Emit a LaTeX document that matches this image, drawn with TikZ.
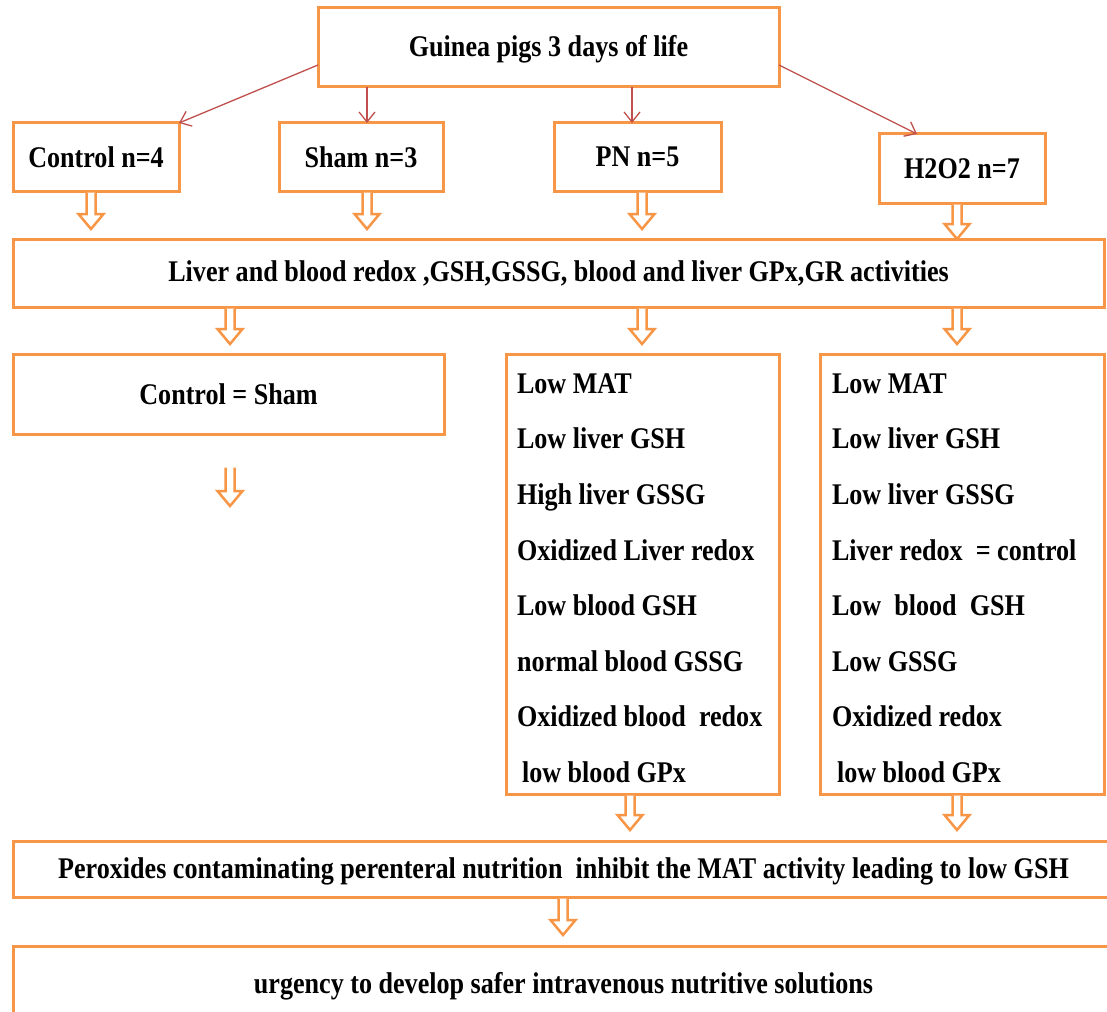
\documentclass[tikz,border=0pt]{standalone}
\usepackage{fontspec}
\setmainfont{Liberation Serif}[FakeStretch=0.87]
\usetikzlibrary{arrows.meta,calc}
\definecolor{boxorange}{HTML}{F79646}
\definecolor{linkred}{HTML}{C0504D}
\tikzset{
  box/.style={draw=boxorange, line width=3pt, rectangle, inner sep=0pt, outer sep=0pt,
    anchor=north west, font=\bfseries\fontsize{30}{36}\selectfont},
  harrow/.style={draw=boxorange, fill=white, line width=2.5pt, line join=miter},
  link/.style={draw=linkred, line width=1.3pt, -{Straight Barb[length=10pt,width=16pt]}},
  listtext/.style={anchor=north west, inner sep=0pt, outer sep=0pt, align=left,
    font=\bfseries\fontsize{30}{55.6}\selectfont},
}
\newcommand\hollowarrow[3]{%
  \draw[harrow] let \p1=(#1), \p2=(#2) in
    (\x1-4.5pt,\y1-1.5pt) -- (\x1-4.5pt,\y2+#3+15pt) -- (\x1-12.5pt,\y2+#3+15pt)
    -- (\x1,\y2+#3) -- (\x1+12.5pt,\y2+#3+15pt) -- (\x1+4.5pt,\y2+#3+15pt)
    -- (\x1+4.5pt,\y1-1.5pt);}
\begin{document}
\begin{tikzpicture}[x=1pt,y=-1pt]
\useasboundingbox (0,0) rectangle (1107,1011);
\clip (0,0) rectangle (1107,1011);
\fill[white] (0,0) rectangle (1107,1011);

% boxes
\node[box, minimum width=461, minimum height=79, text depth=3pt] (top) at (318,8) {Guinea pigs 3 days of life};
\node[box, minimum width=166, minimum height=68] (control) at (13,123) {Control n=4};
\node[box, minimum width=164, minimum height=68] (sham) at (279,123) {Sham n=3};
\node[box, minimum width=167, minimum height=68] (pn) at (554,123) {PN n=5};
\node[box, minimum width=166, minimum height=69] (h2o2) at (879,134) {H2O2 n=7};
\node[box, minimum width=1091, minimum height=68] (liver) at (13,239)
  {Liver and blood redox ,GSH,GSSG, blood and liver GPx,GR activities};
\node[box, minimum width=431, minimum height=80] (ctrlsham) at (13,354) {Control = Sham};
\node[box, minimum width=273, minimum height=440] (pnres) at (506,354) {};
\node[box, minimum width=284, minimum height=440] (h2res) at (820,354) {};
\node[box, minimum width=1101, minimum height=56, text depth=2pt] (perox) at (13,841)
  {Peroxides contaminating perenteral nutrition\ \ inhibit the MAT activity leading to low GSH};
\node[box, minimum width=1101, minimum height=80] (urg) at (13,946)
  {urgency to develop safer intravenous nutritive solutions};

% result lists
\node[listtext] (pnlist) at (517,373.4) {Low MAT\\Low liver GSH\\High liver GSSG\\Oxidized Liver redox\\Low blood GSH\\normal blood GSSG\\Oxidized blood\ \ redox\\\hspace{5pt}low blood GPx};
\node[listtext] (h2list) at (832,373.4) {Low MAT\\Low liver GSH\\Low liver GSSG\\Liver redox\ \ = control\\Low\ \ blood\ \ GSH\\Low GSSG\\Oxidized redox\\\hspace{5pt}low blood GPx};

% red links
\draw[link] ([yshift=-17.5pt]top.west) -- (control.north east);
\draw[link] (top.south -| 367,0) -- (sham.north -| 367,0);
\draw[link] (top.south -| 632,0) -- (pn.north -| 632,0);
\draw[link] ([yshift=-17.5pt]top.east) -- (h2o2.north -| 917,0);

% hollow arrows
\hollowarrow{control.south -| 91,0}{liver.north -| 91,0}{10pt}
\hollowarrow{sham.south -| 367,0}{liver.north -| 367,0}{10pt}
\hollowarrow{pn.south -| 642,0}{liver.north -| 642,0}{10pt}
\hollowarrow{h2o2.south -| 957,0}{liver.north -| 957,0}{0pt}
\hollowarrow{liver.south -| 230,0}{ctrlsham.north -| 230,0}{10pt}
\hollowarrow{liver.south -| 642,0}{pnres.north -| 642,0}{10pt}
\hollowarrow{liver.south -| 957,0}{h2res.north -| 957,0}{10pt}
\coordinate (freestart) at (230,466);
\coordinate (freetip) at (230,506);
\hollowarrow{freestart}{freetip}{0pt}
\hollowarrow{pnres.south -| 630,0}{perox.north -| 630,0}{11pt}
\hollowarrow{h2res.south -| 957,0}{perox.north -| 957,0}{11pt}
\hollowarrow{perox.south -| 563,0}{urg.north -| 563,0}{11pt}
\end{tikzpicture}
\end{document}
